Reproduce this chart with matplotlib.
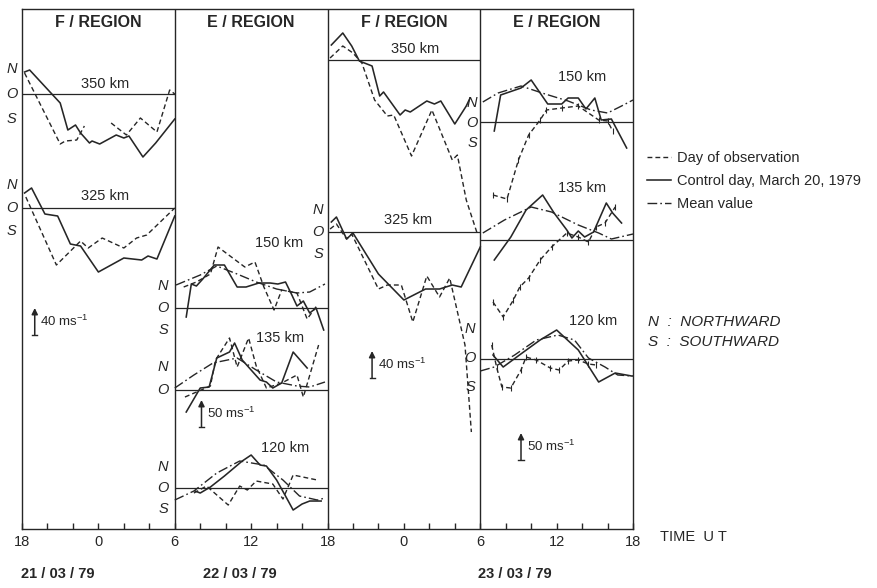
import numpy as np
import matplotlib.pyplot as plt
from matplotlib.lines import Line2D

plt.rcParams['font.family'] = ['Liberation Sans', 'DejaVu Sans']
plt.rcParams['mathtext.fontset'] = 'custom'
plt.rcParams['mathtext.rm'] = 'Liberation Sans'

nan = np.nan
INK = '#262626'

# time axis: hours since 18 UT on 21/03/79, one panel = 12 h
tick_hours = np.arange(0, 49, 2)
tick_names = ['18', '0', '6', '12', '18', '0', '6', '12', '18']
panel_edges = [0, 12, 24, 36, 48]
panel_titles = ['F / REGION', 'E / REGION', 'F / REGION', 'E / REGION']
dates = ['21 / 03 / 79', '22 / 03 / 79', '23 / 03 / 79']

# wind profiles, digitised: values in plot units above each baseline
# (scale bar = 27 units = 40 ms-1 in F region, 50 ms-1 in E region)

# panel 1, F region, night 21/03
p1_350_ctrl_h = [0.2, 0.6, 3.0, 3.6, 4.2, 4.6, 5.3, 5.5, 6.1, 7.4, 8.0, 8.4, 9.5, 10.5, 12.0]
p1_350_ctrl = [22, 24, -9, -36, -31, -39, -49, -47, -50, -41, -44, -42, -63, -49, -25]
p1_350_obs_h = [0.2, 3.0, 3.4, 4.3, 4.9, nan, 7.0, 8.2, 9.3, 10.6, 11.6, 12.0]
p1_350_obs = [21, -50, -47, -46, -32, nan, -29, -41, -24, -38, 4, 0]
p1_325_ctrl_h = [0.2, 0.75, 1.8, 2.8, 3.8, 4.6, 6.0, 8.0, 9.4, 9.9, 10.6, 12.0]
p1_325_ctrl = [15, 20, -6, -8, -36, -38, -64, -50, -52, -48, -51, -8]
p1_325_obs_h = [0.3, 2.7, 4.6, 5.2, 6.3, 8.0, 9.0, 9.8, 12.0]
p1_325_obs = [11, -57, -33, -40, -30, -40, -30, -27, 0]

# panel 2, E region, day 22/03
p2_150_ctrl_h = [12.9, 13.3, 13.7, 14.2, 15.1, 15.9, 16.9, 17.6, 18.6, 19.5, 20.1, 20.7,
                 21.2, 21.6, 22.1, 22.6, 23.1, 23.7]
p2_150_ctrl = [-9, 24, 22, 29, 43, 43, 21, 21, 25, 25, 24, 26, 13, 2, 7, -5, 0, -22]
p2_150_obs_h = [12.7, 13.7, 14.8, 15.4, 17.5, 18.3, 19.0, 19.8, 20.4, 21.6, 22.4, 23.2]
p2_150_obs = [21, 26, 34, 61, 41, 46, 21, -2, 18, 15, -11, 3]
p2_150_mean_h = [12.1, 14.0, 15.3, 16.9, 18.4, 20.0, 21.6, 22.6, 23.8]
p2_150_mean = [23, 33, 42, 34, 26, 19, 15, 16, 24]
p2_135_ctrl_h = [12.9, 14.0, 14.7, 15.3, 16.3, 16.7, 17.3, 18.0, 18.7, 19.2, 19.7, 20.4, 21.3, 22.4]
p2_135_ctrl = [-22, 2, 3, 32, 38, 47, 30, 20, 10, 8, 2, 7, 38, 22]
p2_135_obs_h = [12.8, 14.8, 15.2, 16.3, 16.9, 17.8, 18.4, 19.2, 20.4, 21.6, 22.1, 23.3]
p2_135_obs = [-7, 4, 30, 52, 23, 52, 24, 2, 7, 15, -7, 45]
p2_135_mean_h = [12.0, 13.5, 15.0, 16.9, 18.4, 20.0, 21.6, 22.6, 23.8]
p2_135_mean = [2, 15, 27, 32, 20, 8, 4, 3, 8]
p2_120_ctrl_h = [13.6, 14.0, 14.8, 15.9, 17.3, 18.0, 18.7, 19.2, 20.0, 20.7, 21.3, 22.0, 22.6, 23.5]
p2_120_ctrl = [-3, -5, 1, 12, 27, 33, 23, 22, 8, -8, -22, -16, -13, -13]
p2_120_obs_h = [13.5, 14.5, 16.2, 17.1, 17.7, 18.4, 19.7, 20.5, 21.3, 23.2]
p2_120_obs = [-5, 2, -17, 2, -2, 7, 4, -11, 13, 8]
p2_120_mean_h = [12.0, 13.5, 15.3, 17.1, 19.0, 20.5, 21.8, 23.2, 23.8]
p2_120_mean = [-12, -3, 15, 27, 23, 8, -8, -12, -10]

# panel 3, F region, night 22-23/03
p3_350_ctrl_h = [24.3, 25.2, 25.9, 26.5, 27.5, 28.1, 28.4, 29.7, 30.1, 30.5, 31.8, 32.4,
                 32.9, 34.0, 34.9, 35.2]
p3_350_ctrl = [15, 27, 14, -1, -6, -36, -32, -55, -50, -52, -41, -44, -41, -64, -46, -38]
p3_350_obs_h = [24.2, 25.2, 26.0, 26.7, 27.7, 28.7, 29.2, 30.6, 32.2, 33.8, 34.2, 34.9, 35.8]
p3_350_obs = [2, 14, 7, -3, -40, -56, -55, -96, -50, -100, -95, -140, -175]
p3_325_ctrl_h = [24.3, 24.7, 25.5, 26.0, 28.0, 30.0, 31.7, 32.8, 33.8, 34.5, 36.0]
p3_325_ctrl = [10, 15, -7, -1, -42, -68, -57, -57, -53, -55, -15]
p3_325_obs_h = [24.2, 24.7, 25.5, 25.9, 28.0, 28.7, 29.8, 30.7, 31.8, 32.8, 33.6, 34.8, 35.3]
p3_325_obs = [3, 8, -7, -2, -57, -53, -53, -90, -44, -65, -46, -113, -200]

# panel 4, E region, day 23/03
p4_150_ctrl_h = [37.1, 37.6, 39.2, 40.0, 41.3, 42.4, 42.9, 43.7, 44.3, 45.0, 45.5, 46.3, 47.5]
p4_150_ctrl = [-9, 27, 34, 42, 18, 18, 24, 24, 13, 24, 2, 3, -26]
p4_150_obs_h = [37.0, 38.1, 39.0, 39.8, 40.7, 41.2, 42.4, 43.7, 45.3, 46.0, 46.4]
p4_150_obs = [-73, -77, -38, -13, 2, 12, 14, 16, 2, 1, -9]
p4_150_mean_h = [36.2, 37.4, 39.2, 41.1, 42.9, 44.7, 46.0, 47.1, 48.0]
p4_150_mean = [20, 29, 36, 28, 21, 12, 9, 16, 22]
p4_135_ctrl_h = [37.1, 38.4, 39.6, 40.9, 41.8, 42.8, 43.2, 43.7, 44.2, 44.9, 45.9, 46.4, 47.1]
p4_135_ctrl = [-20, 3, 30, 45, 27, 10, 2, 9, 3, 8, 37, 27, 17]
p4_135_obs_h = [37.0, 37.8, 38.6, 39.1, 39.8, 40.7, 41.6, 42.8, 43.7, 44.5, 45.1, 45.8, 46.6]
p4_135_obs = [-62, -77, -60, -47, -38, -20, -7, 7, 3, -2, 13, 17, 33]
p4_135_mean_h = [36.2, 37.9, 40.0, 41.6, 43.7, 45.3, 46.3, 48.0]
p4_135_mean = [7, 20, 33, 28, 15, 7, 1, 6]
p4_120_ctrl_h = [37.0, 37.8, 39.4, 40.7, 42.0, 43.7, 45.3, 46.6, 47.9]
p4_120_ctrl = [4, -8, 7, 19, 29, 9, -23, -14, -17]
p4_120_obs_h = [36.9, 37.3, 37.7, 38.4, 39.2, 39.6, 40.4, 41.5, 42.2, 42.9, 43.7, 44.5, 45.1]
p4_120_obs = [14, -9, -28, -29, -11, 2, -1, -9, -11, -2, -1, -5, -6]
p4_120_mean_h = [36.0, 37.1, 38.7, 40.4, 42.1, 43.4, 44.5, 45.8, 46.8, 48.0]
p4_120_mean = [-12, -8, 4, 19, 24, 19, 1, -8, -16, -17]

# baselines: (panel start, panel end, level, altitude label)
baselines = [
    (0, 12, 435, '350 km'), (0, 12, 321, '325 km'),
    (12, 24, 221, '150 km'), (12, 24, 139, '135 km'), (12, 24, 41, '120 km'),
    (24, 36, 469, '350 km'), (24, 36, 297, '325 km'),
    (36, 48, 407, '150 km'), (36, 48, 289, '135 km'), (36, 48, 170, '120 km'),
]
label_pos = [(6.5, 445), (6.5, 333), (20.2, 286), (20.3, 191), (20.7, 81),
             (30.9, 480), (30.3, 309), (44.0, 452), (44.0, 341), (44.9, 208)]

curves = [
    (p1_350_ctrl_h, p1_350_ctrl, 435, 'ctrl'), (p1_350_obs_h, p1_350_obs, 435, 'obs'),
    (p1_325_ctrl_h, p1_325_ctrl, 321, 'ctrl'), (p1_325_obs_h, p1_325_obs, 321, 'obs'),
    (p2_150_ctrl_h, p2_150_ctrl, 221, 'ctrl'), (p2_150_obs_h, p2_150_obs, 221, 'obs'),
    (p2_150_mean_h, p2_150_mean, 221, 'mean'),
    (p2_135_ctrl_h, p2_135_ctrl, 139, 'ctrl'), (p2_135_obs_h, p2_135_obs, 139, 'obs'),
    (p2_135_mean_h, p2_135_mean, 139, 'mean'),
    (p2_120_ctrl_h, p2_120_ctrl, 41, 'ctrl'), (p2_120_obs_h, p2_120_obs, 41, 'obs'),
    (p2_120_mean_h, p2_120_mean, 41, 'mean'),
    (p3_350_ctrl_h, p3_350_ctrl, 469, 'ctrl'), (p3_350_obs_h, p3_350_obs, 469, 'obs'),
    (p3_325_ctrl_h, p3_325_ctrl, 297, 'ctrl'), (p3_325_obs_h, p3_325_obs, 297, 'obs'),
    (p4_150_ctrl_h, p4_150_ctrl, 407, 'ctrl'), (p4_150_obs_h, p4_150_obs, 407, 'obs_err'),
    (p4_150_mean_h, p4_150_mean, 407, 'mean'),
    (p4_135_ctrl_h, p4_135_ctrl, 289, 'ctrl'), (p4_135_obs_h, p4_135_obs, 289, 'obs_err'),
    (p4_135_mean_h, p4_135_mean, 289, 'mean'),
    (p4_120_ctrl_h, p4_120_ctrl, 170, 'ctrl'), (p4_120_obs_h, p4_120_obs, 170, 'obs_err'),
    (p4_120_mean_h, p4_120_mean, 170, 'mean'),
]

DASH = (0, (3.5, 2.2))
DASHDOT = (0, (7, 2.2, 1.2, 2.2))
styles = {
    'ctrl': dict(ls='-', lw=1.15),
    'obs': dict(ls=DASH, lw=1.0),
    'obs_err': dict(ls=DASH, lw=1.0),
    'mean': dict(ls=DASHDOT, lw=1.0),
}

# N / O / S marks: (hour, baseline, letters, spacing)
nos_marks = [(-0.8, 435, 'NOS', 25), (-0.8, 321, 'NOS', 23),
             (11.1, 221, 'NOS', 22), (11.1, 139, 'NO', 23), (11.1, 41, 'NOS', 21),
             (23.25, 297, 'NOS', 22), (35.35, 406, 'NOS', 20), (35.2, 171, 'NOS', 29)]

# scale bars: (hour, bottom, label)
scale_bars = [(1.0, 194, '40'), (14.1, 102, '50'), (27.5, 151, '40'), (39.2, 69, '50')]
BAR = 27

fig = plt.figure(figsize=(8.77, 5.88), dpi=100)
ax = fig.add_axes([0.0251, 0.1003, 0.6967, 0.8844])
ax.set_xlim(0, 48)
ax.set_ylim(0, 520)

for h0, h1, lev, _ in baselines:
    ax.hlines(lev, h0, h1, color=INK, lw=0.9)
for (h0, h1, lev, name), (tx, ty) in zip(baselines, label_pos):
    ax.text(tx, ty, name, ha='center', va='center', fontsize=10.5, color=INK)

for hrs, vals, base, kind in curves:
    y = base + np.array(vals, dtype=float)
    if kind == 'obs_err':
        ax.errorbar(hrs, y, yerr=3, color=INK, elinewidth=0.8, capsize=0, **styles[kind])
    else:
        ax.plot(hrs, y, color=INK, **styles[kind])

for edge in panel_edges[1:-1]:
    ax.axvline(edge, color=INK, lw=1.0)
for i, title in enumerate(panel_titles):
    ax.text(panel_edges[i] + 6, 506, title, ha='center', va='center',
            fontsize=11.5, fontweight='bold', color=INK)

for hx, base, letters, step in nos_marks:
    for k, ch in enumerate(letters):
        ax.text(hx, base + step * (1 - k), ch, ha='center', va='center',
                fontsize=10.5, fontstyle='italic', color=INK, clip_on=False)

for hx, y0, val in scale_bars:
    ax.annotate('', xy=(hx, y0 + BAR), xytext=(hx, y0),
                arrowprops=dict(arrowstyle='-|>', lw=1.1, color=INK,
                                mutation_scale=9, shrinkA=0, shrinkB=0))
    ax.plot([hx - 0.2, hx + 0.2], [y0, y0], color=INK, lw=1.0)
    ax.text(hx + 0.45, y0 + BAR / 2, val + r' ms$^{-1}$', ha='left', va='center',
            fontsize=9.5, color=INK)

ax.set_yticks([])
ax.set_xticks(tick_hours)
ax.set_xticklabels([tick_names[int(h) // 6] if h % 6 == 0 else '' for h in tick_hours])
ax.tick_params(axis='x', direction='in', length=4, width=1.0, pad=4,
               labelsize=10.5, colors=INK)
for sp in ax.spines.values():
    sp.set_color(INK)
    sp.set_linewidth(1.0)

fig.text(0.752, 0.087, 'TIME  U T', fontsize=10.5, color=INK, va='center')
for xf, d in zip([0.066, 0.274, 0.587], dates):
    fig.text(xf, 0.024, d, ha='center', va='center', fontsize=10.5,
             fontweight='bold', color=INK)

handles = [Line2D([], [], color=INK, **styles['obs']),
           Line2D([], [], color=INK, **styles['ctrl']),
           Line2D([], [], color=INK, **styles['mean'])]
names = ['Day of observation', 'Control day, March 20, 1979', 'Mean value']
fig.legend(handles, names, loc='upper left', bbox_to_anchor=(0.738, 0.743),
           frameon=False, fontsize=10.5, handlelength=1.6, handletextpad=0.45,
           labelspacing=0.62, borderpad=0, borderaxespad=0, labelcolor=INK)

fig.text(0.739, 0.452, 'N  :  NORTHWARD', fontsize=11, fontstyle='italic',
         color=INK, va='center')
fig.text(0.739, 0.418, 'S  :  SOUTHWARD', fontsize=11, fontstyle='italic',
         color=INK, va='center')

fig.savefig('out.png', dpi=100)
